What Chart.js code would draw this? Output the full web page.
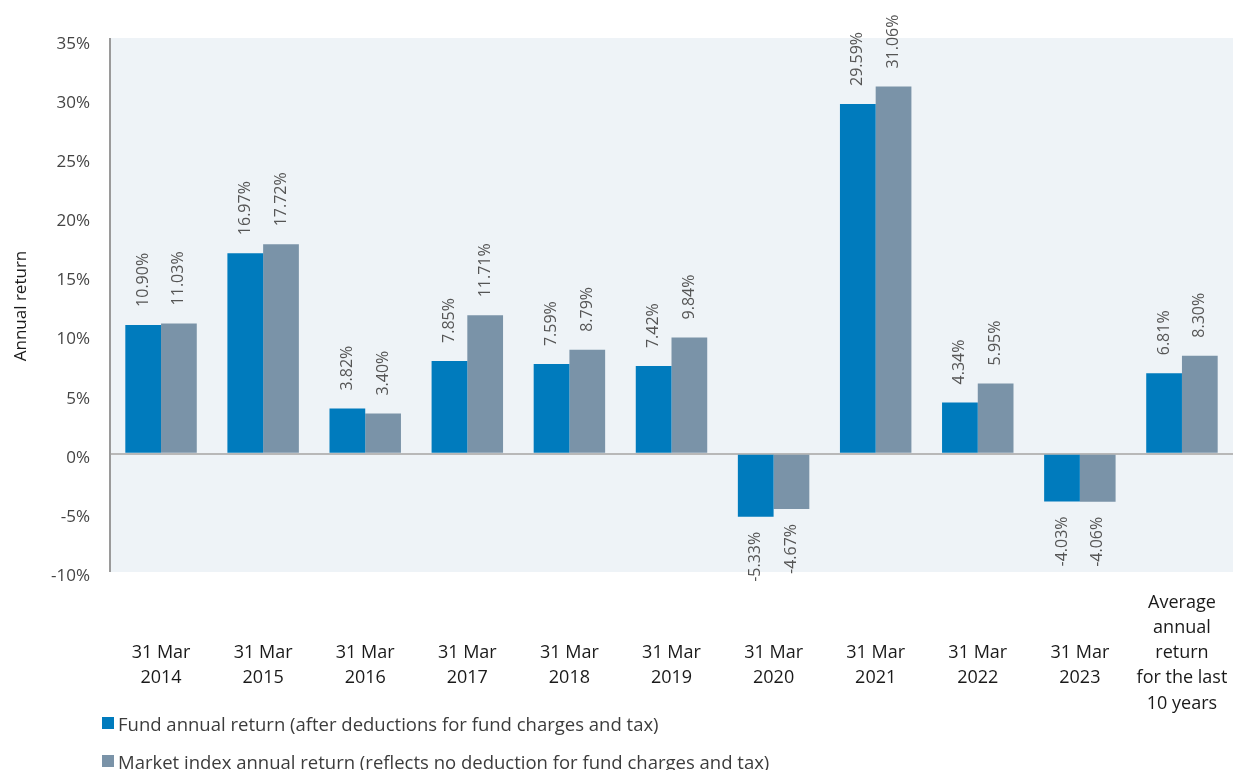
<!DOCTYPE html>
<html>
<head>
<meta charset="utf-8">
<script src="https://cdn.jsdelivr.net/npm/chart.js@4.4.1/dist/chart.umd.min.js"></script>
<style>
  body { margin: 0; background: #fff; font-family: 'Open Sans', sans-serif; }
  #wrap { position: relative; width: 1233px; height: 770px; }
  #legend { position: absolute; left: 102px; top: 704px; }
  .item { display: flex; align-items: center; height: 38px; font-size: 18.5px; color: #3c3c3c; white-space: nowrap; }
  .box { width: 12px; height: 12px; margin-right: 4px; }
</style>
</head>
<body>
<div id="wrap">
  <canvas id="chart" width="1233" height="770"></canvas>
  <div id="legend"></div>
</div>
<script>
const categories = [
    ['', '', '31 Mar', '2014'],
    ['', '', '31 Mar', '2015'],
    ['', '', '31 Mar', '2016'],
    ['', '', '31 Mar', '2017'],
    ['', '', '31 Mar', '2018'],
    ['', '', '31 Mar', '2019'],
    ['', '', '31 Mar', '2020'],
    ['', '', '31 Mar', '2021'],
    ['', '', '31 Mar', '2022'],
    ['', '', '31 Mar', '2023'],
    ['Average', 'annual', 'return', 'for the last', '10 years']
];
const fundReturns = [10.90, 16.97, 3.82, 7.85, 7.59, 7.42, -5.33, 29.59, 4.34, -4.03, 6.81];
const indexReturns = [11.03, 17.72, 3.40, 11.71, 8.79, 9.84, -4.67, 31.06, 5.95, -4.06, 8.30];
const seriesNames = [
    'Fund annual return (after deductions for fund charges and tax)',
    'Market index annual return (reflects no deduction for fund charges and tax)'
];
const seriesColors = ['#007bbd', '#7a93a8'];
const yMin = -10, yMax = 35, yStep = 5;

// light panel behind the plot, plus the left axis line
const plotBackground = {
    id: 'plotBackground',
    beforeDraw(chart) {
        const { ctx, chartArea: a } = chart;
        ctx.save();
        ctx.fillStyle = '#eef3f7';
        ctx.fillRect(a.left, a.top - 2, a.right - a.left, a.bottom - a.top + 2);
        ctx.restore();
    },
    afterDraw(chart) {
        const { ctx, chartArea: a } = chart;
        ctx.save();
        ctx.strokeStyle = '#9a9a9a';
        ctx.lineWidth = 2;
        ctx.beginPath();
        ctx.moveTo(a.left, a.top - 2);
        ctx.lineTo(a.left, a.bottom);
        ctx.stroke();
        ctx.restore();
    }
};

// rotated value labels above / below each bar
const valueLabels = {
    id: 'valueLabels',
    afterDatasetsDraw(chart) {
        const ctx = chart.ctx;
        ctx.save();
        ctx.font = '16px "Open Sans", sans-serif';
        ctx.fillStyle = '#555';
        ctx.textBaseline = 'middle';
        chart.data.datasets.forEach((ds, i) => {
            chart.getDatasetMeta(i).data.forEach((bar, j) => {
                const v = ds.data[j];
                const pos = v >= 0;
                ctx.save();
                ctx.translate(bar.x, pos ? bar.y - 18 : bar.y + 15);
                ctx.rotate(-Math.PI / 2);
                ctx.textAlign = pos ? 'left' : 'right';
                ctx.fillText(v.toFixed(2) + '%', 0, 0);
                ctx.restore();
            });
        });
        ctx.restore();
    }
};

const ctx = document.getElementById('chart').getContext('2d');
new Chart(ctx, {
    type: 'bar',
    data: {
        labels: categories,
        datasets: [
            { label: seriesNames[0], data: fundReturns, backgroundColor: seriesColors[0] },
            { label: seriesNames[1], data: indexReturns, backgroundColor: seriesColors[1] }
        ]
    },
    options: {
        responsive: false,
        animation: false,
        devicePixelRatio: 1,
        layout: { padding: { top: 40, left: 0, right: 0, bottom: 0 } },
        datasets: { bar: { categoryPercentage: 0.7, barPercentage: 1.0 } },
        plugins: { legend: { display: false }, tooltip: { enabled: false } },
        scales: {
            x: {
                grid: { display: false },
                border: { display: false },
                ticks: {
                    autoSkip: false,
                    maxRotation: 0,
                    padding: 10,
                    color: '#1a1a1a',
                    font: { family: '"Open Sans", sans-serif', size: 18, lineHeight: 1.4 }
                },
                afterFit(scale) {
                    scale.height = 198;
                    scale.paddingLeft = 0;
                    scale.paddingRight = 0;
                }
            },
            y: {
                min: yMin,
                max: yMax,
                grid: {
                    drawTicks: false,
                    lineWidth: 2,
                    color: c => c.tick && c.tick.value === 0 ? '#b8b8b8' : 'rgba(0,0,0,0)'
                },
                border: { display: false },
                ticks: {
                    stepSize: yStep,
                    padding: 20,
                    labelOffset: 4,
                    color: '#444',
                    font: { family: '"Open Sans", sans-serif', size: 17 },
                    callback: v => v + '%'
                },
                title: {
                    display: true,
                    text: 'Annual return',
                    color: '#1a1a1a',
                    padding: { top: 11, bottom: 0 },
                    font: { family: '"Open Sans", sans-serif', size: 17 }
                },
                afterFit(scale) { scale.width = 110; }
            }
        }
    },
    plugins: [plotBackground, valueLabels]
});

const legend = document.getElementById('legend');
seriesNames.forEach((name, i) => {
    const row = document.createElement('div');
    row.className = 'item';
    row.innerHTML = `<span class="box" style="background:${seriesColors[i]}"></span><span>${name}</span>`;
    legend.appendChild(row);
});
</script>
</body>
</html>
